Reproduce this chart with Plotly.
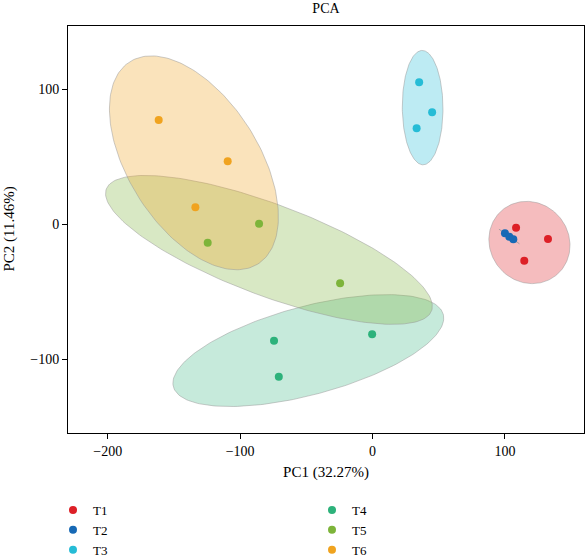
import numpy as np
import plotly.graph_objects as go

groups = ["T1", "T2", "T3", "T4", "T5", "T6"]
pc1 = {
    "T1": [108.4, 132.5, 114.6],
    "T2": [100.0, 103.3, 106.3],
    "T3": [35.2, 45.0, 33.3],
    "T4": [-74.4, -0.3, -70.8],
    "T5": [-85.7, -124.5, -24.5],
    "T6": [-161.5, -109.4, -133.8],
}
pc2 = {
    "T1": [-2.5, -10.9, -27.0],
    "T2": [-6.7, -9.2, -11.1],
    "T3": [105.2, 83.0, 71.1],
    "T4": [-86.2, -81.5, -112.9],
    "T5": [0.4, -13.6, -43.7],
    "T6": [77.3, 46.7, 12.6],
}
colors = {
    "T1": "#DD2027",
    "T2": "#1769B5",
    "T3": "#26BCD6",
    "T4": "#2DB27B",
    "T5": "#7DB43A",
    "T6": "#F0A31F",
}
fills = {
    "T1": "rgba(221,32,39,0.3)",
    "T2": "rgba(23,105,181,0.3)",
    "T3": "rgba(38,188,214,0.3)",
    "T4": "rgba(45,178,123,0.27)",
    "T5": "rgba(125,180,58,0.3)",
    "T6": "rgba(240,163,31,0.3)",
}
legend_of = {"T1": "legend", "T2": "legend", "T3": "legend",
             "T4": "legend2", "T5": "legend2", "T6": "legend2"}

FONT = "Liberation Serif"
k = np.sqrt(-2 * np.log(0.05))  # 95% chi-square radius, 2 dof

fig = go.Figure()

t = np.linspace(0, 2 * np.pi, 200)
for g in groups:
    x = np.array(pc1[g]); y = np.array(pc2[g])
    cov = np.cov(x, y)
    vals, vecs = np.linalg.eigh(cov)
    vals = np.clip(vals, 1e-9, None)
    circ = np.vstack([np.cos(t), np.sin(t)])
    pts = vecs @ (np.sqrt(vals)[:, None] * circ) * k
    ex = pts[0] + x.mean(); ey = pts[1] + y.mean()
    fig.add_trace(go.Scatter(x=ex, y=ey, mode="lines", fill="toself",
                             fillcolor=fills[g],
                             line=dict(color="rgba(150,150,150,0.7)", width=0.7),
                             showlegend=False, hoverinfo="skip"))

for g in groups:
    fig.add_trace(go.Scatter(x=pc1[g], y=pc2[g], mode="markers", name=g,
                             marker=dict(color=colors[g], size=8),
                             legend=legend_of[g]))

axis_common = dict(showline=True, linecolor="black", linewidth=1, mirror=True,
                   ticks="outside", ticklen=5, tickcolor="black",
                   showgrid=False, zeroline=False,
                   tickfont=dict(family=FONT, size=14, color="black"))

leg_common = dict(orientation="v", xref="container", yref="container",
                  xanchor="left", yanchor="top", y=1 - 495 / 557,
                  font=dict(family=FONT, size=13, color="black"),
                  tracegroupgap=0, itemwidth=30, bgcolor="rgba(0,0,0,0)")

fig.update_layout(
    width=586, height=557,
    margin=dict(l=68, r=2, t=26, b=124, autoexpand=False),
    plot_bgcolor="white", paper_bgcolor="white",
    title=dict(text="PCA", x=0.5563, xanchor="center", yref="container",
               y=1 - 8 / 557, yanchor="middle",
               font=dict(family=FONT, size=14, color="black")),
    xaxis=dict(range=[-230, 159.7], tickvals=[-200, -100, 0, 100],
               title=dict(text="PC1 (32.27%)", font=dict(family=FONT, size=15, color="black"), standoff=8),
               **axis_common),
    yaxis=dict(range=[-154.6, 146.9], tickvals=[-100, 0, 100], **axis_common),
    legend=dict(x=53 / 586, **leg_common),
    legend2=dict(x=312 / 586, **leg_common),
    showlegend=True,
    annotations=[dict(text="PC2 (11.46%)", textangle=-90, xref="paper", yref="paper",
                      x=(9 - 68) / 516, y=0.5, xanchor="center", yanchor="middle",
                      showarrow=False, font=dict(family=FONT, size=15, color="black"))],
)

fig.write_html("out.html")
